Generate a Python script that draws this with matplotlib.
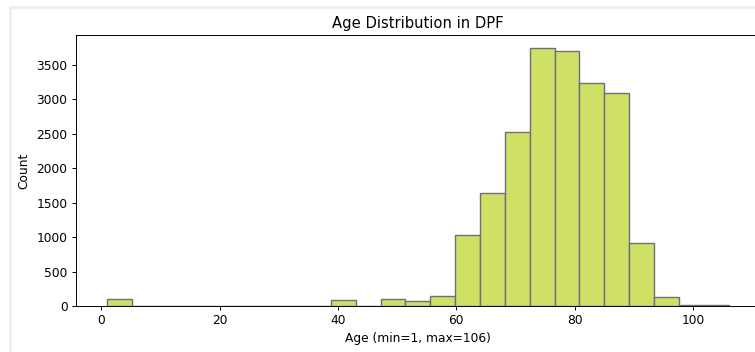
import numpy as np
import matplotlib
matplotlib.use("Agg")
import matplotlib.pyplot as plt
from matplotlib.patches import Rectangle

# Age histogram data (25 equal-width bins from min to max age)
age_min = 1
age_max = 106
n_bins = 25
counts = [100, 0, 0, 0, 0, 0, 0, 0, 0, 87,
          0, 100, 72, 145, 1027, 1635, 2532, 3748, 3705, 3242,
          3097, 912, 130, 15, 10]

title = "Age Distribution in DPF"
xlabel = f"Age (min={age_min}, max={age_max})"
ylabel = "Count"

bins = np.linspace(age_min, age_max, n_bins + 1)

fig = plt.figure(figsize=(7.55, 3.52), dpi=100)

# light notebook-style frame on the left and top
fig.patches.append(Rectangle((9.5 / 755, -0.1), 1.2, 1.1 - 6.5 / 352,
                             transform=fig.transFigure, fill=False,
                             edgecolor='#eeeeee', linewidth=2))

ax = fig.add_axes([76 / 755, 46 / 352, 683.6 / 755, 271 / 352])
ax.hist(bins[:-1], bins=bins, weights=counts,
        color='#cfe065', edgecolor='#6b6f7a', linewidth=1.0)

ax.set_title(title, fontsize=10.6, pad=5)
ax.set_xlabel(xlabel, fontsize=8.8, labelpad=3)
ax.set_ylabel(ylabel, fontsize=8.8, labelpad=4)
ax.tick_params(labelsize=8.8, width=0.7, length=3.1, pad=3)
for s in ax.spines.values():
    s.set_linewidth(0.7)

fig.savefig("out.png", dpi=100)
